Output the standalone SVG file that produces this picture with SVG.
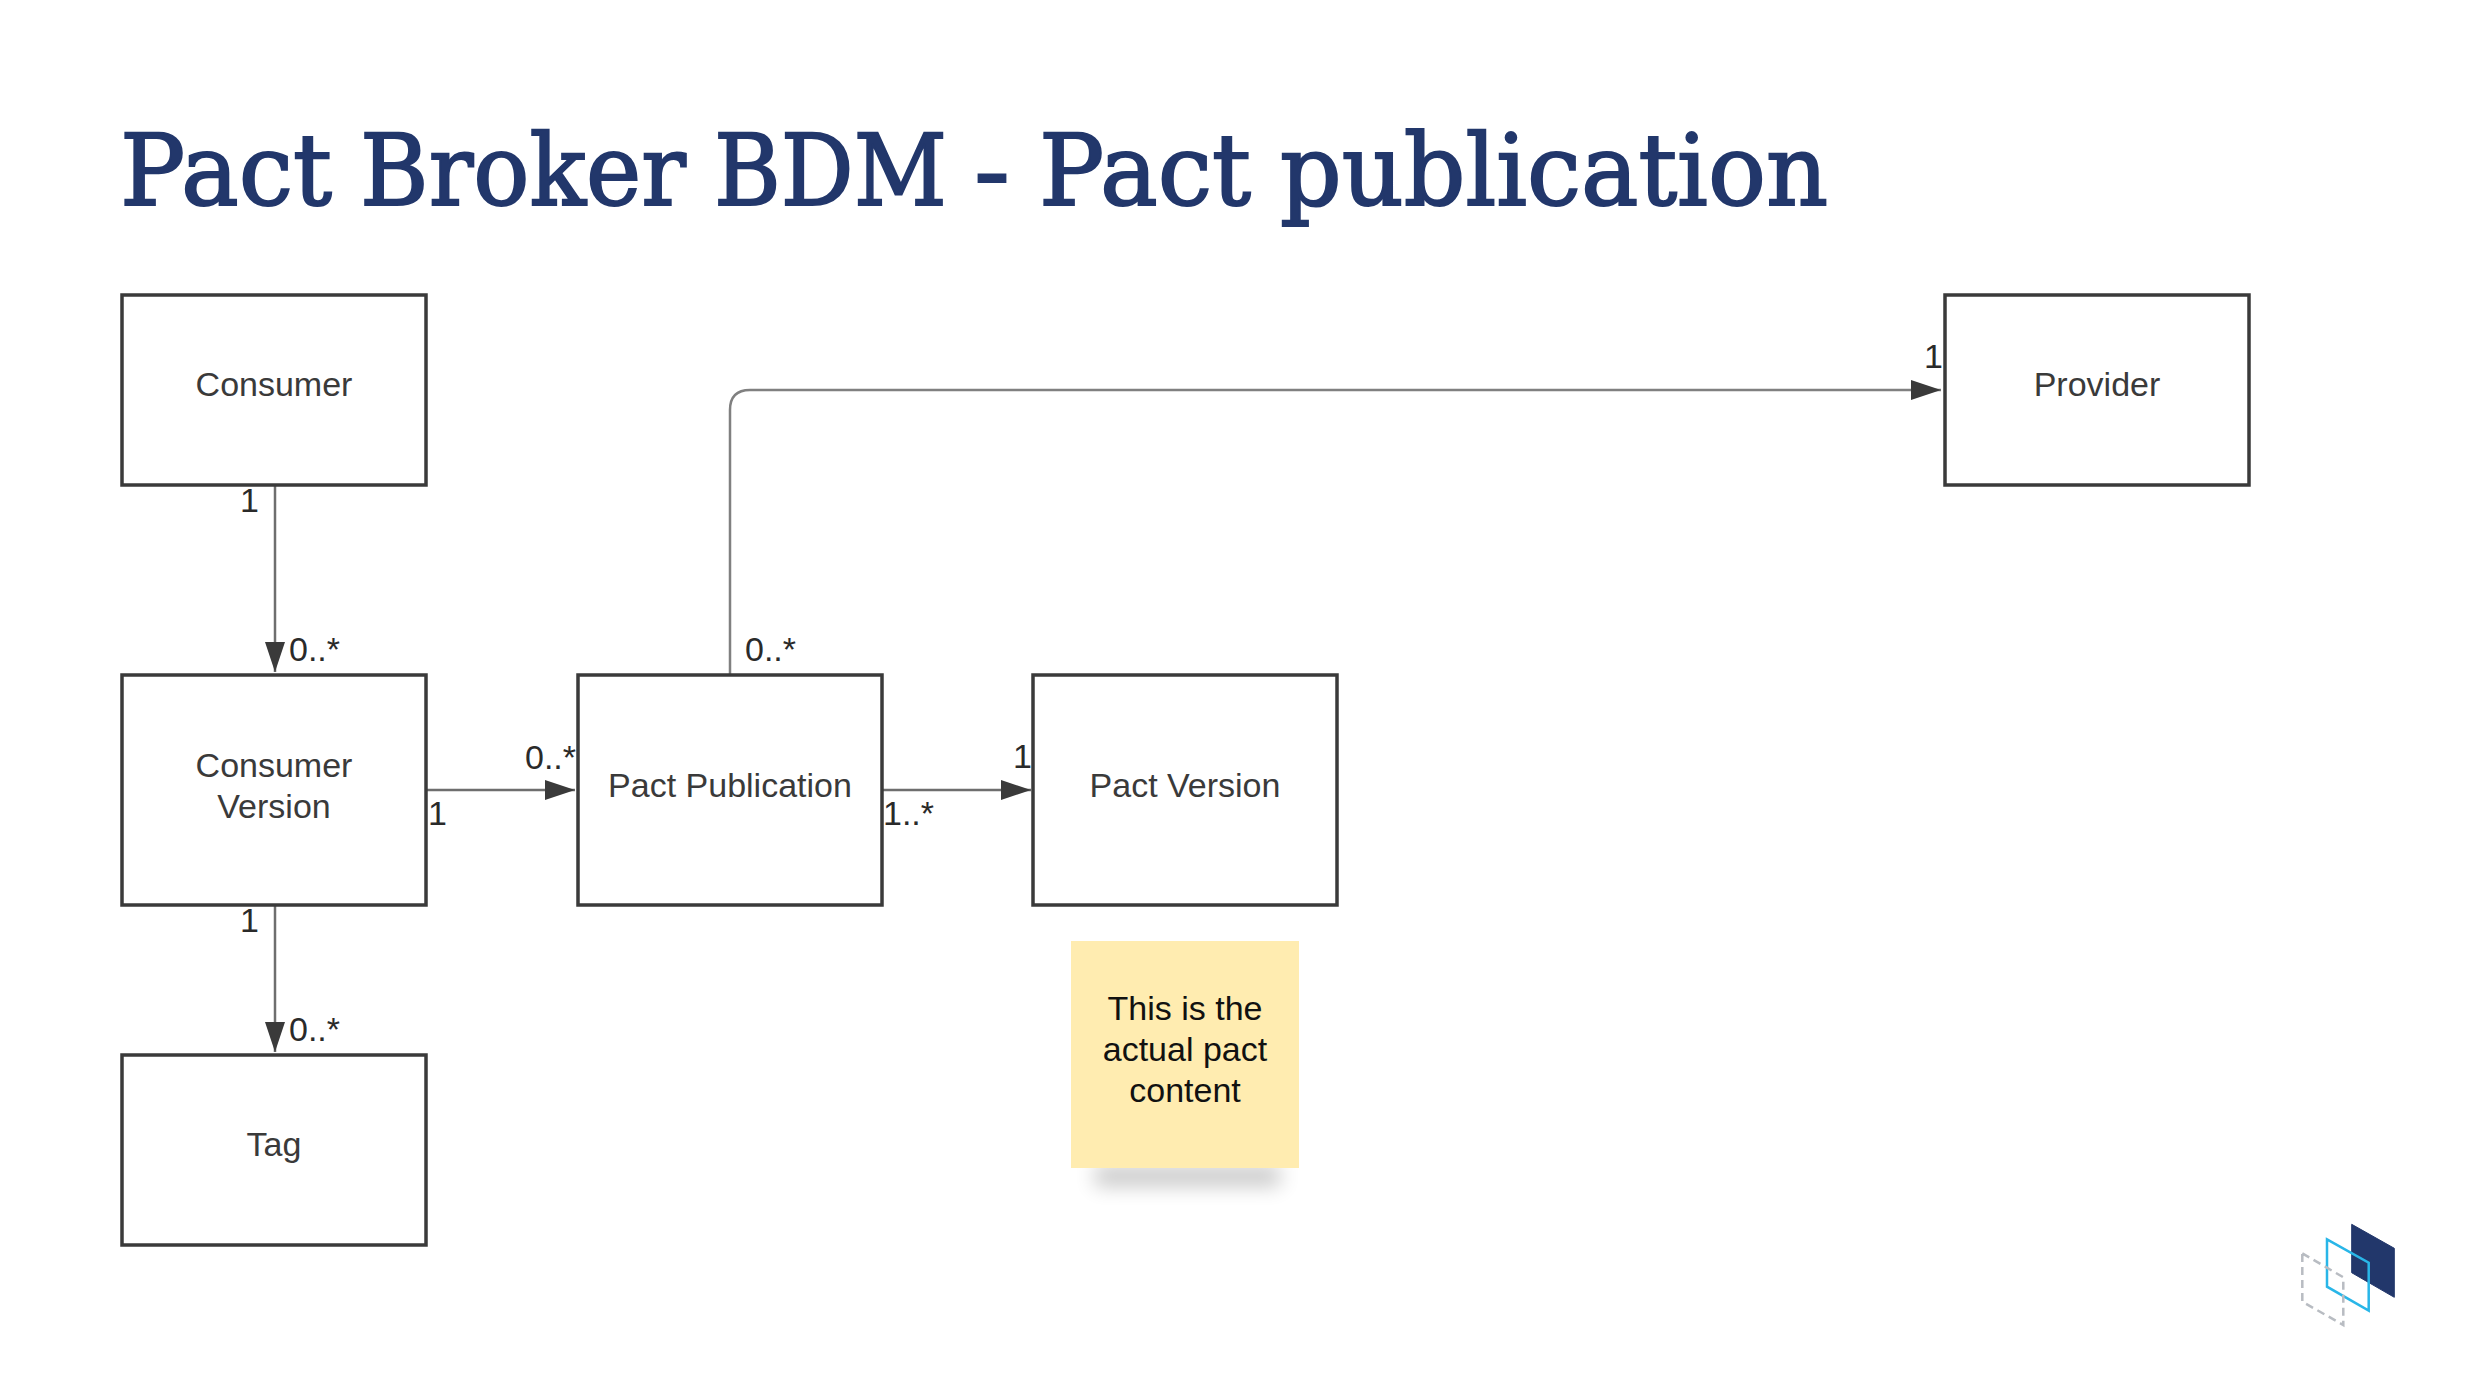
<svg xmlns="http://www.w3.org/2000/svg" width="2466" height="1386" viewBox="0 0 2466 1386">
<style>
.box{fill:#fff;stroke:#3a3a3a;stroke-width:3.5}
.t{font-family:"Liberation Sans",Arial,sans-serif;font-size:34px;fill:#3a3a3a}
.m{text-anchor:middle}
.l{font-family:"Liberation Sans",Arial,sans-serif;font-size:34px;fill:#2a2a2a}
.n{font-family:"Liberation Sans",Arial,sans-serif;font-size:34px;fill:#111;text-anchor:middle}
.c{fill:none;stroke:#6e6e6e;stroke-width:2.5}
</style>
<defs>
<marker id="arrow" markerUnits="userSpaceOnUse" markerWidth="32" markerHeight="22" refX="30" refY="10" orient="auto"><path d="M0 0L30 10L0 20Z" fill="#3a3a3a"/></marker>
<filter id="blur" x="-20%" y="-150%" width="140%" height="400%"><feGaussianBlur stdDeviation="10"/></filter>
</defs>
<rect width="2466" height="1386" fill="#fff"/>
<text y="205" font-family="'DejaVu Serif',serif" font-size="100" fill="#22376b" stroke="#22376b" stroke-width="2" lengthAdjust="spacingAndGlyphs"><tspan x="120" textLength="212" lengthAdjust="spacingAndGlyphs">Pact</tspan> <tspan x="360" textLength="326" lengthAdjust="spacingAndGlyphs">Broker</tspan> <tspan x="714" textLength="233" lengthAdjust="spacingAndGlyphs">BDM</tspan> <tspan x="974" textLength="36" lengthAdjust="spacingAndGlyphs">-</tspan> <tspan x="1039" textLength="212" lengthAdjust="spacingAndGlyphs">Pact</tspan> <tspan x="1280" textLength="548" lengthAdjust="spacingAndGlyphs">publication</tspan></text>
<g id="connectors">
<path class="c" marker-end="url(#arrow)" d="M275 486V672"/>
<path class="c" marker-end="url(#arrow)" d="M275 904V1052"/>
<path class="c" marker-end="url(#arrow)" d="M427 790H575"/>
<path class="c" marker-end="url(#arrow)" d="M882 790H1031"/>
<path class="c" style="stroke:#808080" marker-end="url(#arrow)" d="M730 675V410Q730 390 750 390H1941"/>
</g>
<g id="consumer"><rect class="box" x="122" y="295" width="304" height="190"/><text class="t m" x="274" y="396">Consumer</text></g>
<g id="provider"><rect class="box" x="1945" y="295" width="304" height="190"/><text class="t m" x="2097" y="396">Provider</text></g>
<g id="consumer-version"><rect class="box" x="122" y="675" width="304" height="230"/><text class="t m" x="274" y="777">Consumer</text><text class="t m" x="274" y="818">Version</text></g>
<g id="pact-publication"><rect class="box" x="578" y="675" width="304" height="230"/><text class="t m" x="730" y="797">Pact Publication</text></g>
<g id="pact-version"><rect class="box" x="1033" y="675" width="304" height="230"/><text class="t m" x="1185" y="797">Pact Version</text></g>
<g id="tag"><rect class="box" x="122" y="1055" width="304" height="190"/><text class="t m" x="274" y="1156">Tag</text></g>
<g id="note">
<rect x="1095" y="1166" width="185" height="20" fill="#000" opacity="0.22" filter="url(#blur)"/>
<rect x="1071" y="941" width="228" height="227" fill="#ffecb0"/>
<text class="n" x="1185" y="1020">This is the</text>
<text class="n" x="1185" y="1061">actual pact</text>
<text class="n" x="1185" y="1102">content</text>
</g>
<g id="labels">
<text class="l" x="240" y="512">1</text>
<text class="l" x="289" y="661">0..*</text>
<text class="l" x="240" y="932">1</text>
<text class="l" x="289" y="1041">0..*</text>
<text class="l" x="525" y="769">0..*</text>
<text class="l" x="428" y="825">1</text>
<text class="l" x="745" y="661">0..*</text>
<text class="l" x="883" y="825">1..*</text>
<text class="l" x="1013" y="768">1</text>
<text class="l" x="1924" y="368">1</text>
</g>
<g id="logo">
<path d="M2351.700 1224.300L2394.300 1248.300V1297.300L2351.700 1272.700Z" fill="#22376b" stroke="#22376b" stroke-linejoin="round"/>
<path d="M2327 1239.300L2368.700 1262.700V1310.700L2327 1286.700Z" fill="none" stroke="#29b6e8" stroke-width="2.500"/>
<path d="M2302.300 1253.300L2343.300 1277.300V1325L2302.300 1301.700Z" fill="none" stroke="#b8bcc2" stroke-width="2.500" stroke-dasharray="8 5"/>
</g>
</svg>
